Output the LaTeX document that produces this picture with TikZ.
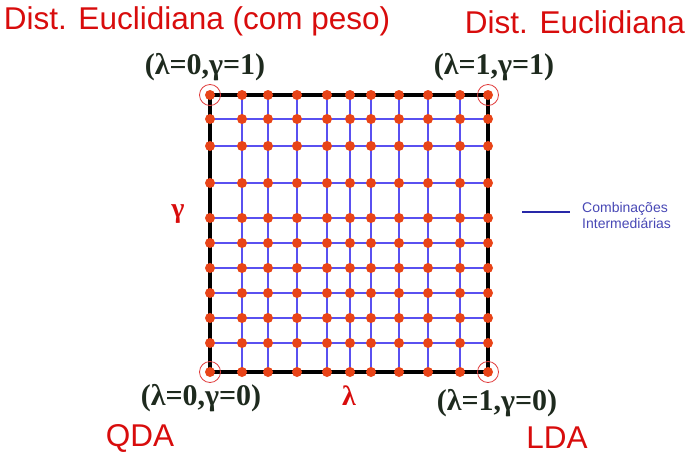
\documentclass[tikz,border=0pt]{standalone}
\usepackage{fontspec}
\setmainfont{Liberation Sans}
\newfontfamily\coordfont{Liberation Serif}
\usetikzlibrary{positioning}
\definecolor{mRed}{HTML}{D80C0C}
\definecolor{mDot}{HTML}{E84418}
\definecolor{mBlue}{HTML}{5A50F0}
\definecolor{mNavy}{HTML}{2828A8}
\definecolor{mDark}{HTML}{1E2A1E}

\tikzset{
  title/.style={text=mRed, font=\fontsize{31.5}{33}\selectfont, inner sep=0pt},
  corner/.style={text=mDark, font=\coordfont\bfseries\fontsize{30}{32}\selectfont, inner sep=0pt},
  axislbl/.style={text=mRed, font=\coordfont\bfseries\fontsize{28}{30}\selectfont, inner sep=0pt},
  gridline/.style={mBlue, line width=2pt},
  dot/.style={circle, fill=mDot, inner sep=0pt, minimum size=10pt},
  ring/.style={circle, draw=mRed!80, line width=0.8pt, minimum size=21pt, inner sep=0pt},
}

\begin{document}
\begin{tikzpicture}[x=1pt, y=-1pt]
  \useasboundingbox (0,0) rectangle (698,455);
  % grid points, lambda along x, gamma along y
  \foreach \x [count=\i from 0] in {210,242,268,297,327,350,371,399,428,460,488} {
    \foreach \y [count=\j from 0] in {372,343,318,293,268,243,218,183,146,119,95} {
      \coordinate (p\i-\j) at (\x,\y);
    }
  }
  \foreach \i in {1,...,9} {
    \draw[gridline] (p\i-0) -- (p\i-10);
    \draw[gridline] (p0-\i) -- (p10-\i);
  }
  \draw[line width=4pt] (p0-0) rectangle (p10-10);
  \foreach \i in {0,...,10} {
    \foreach \j in {0,...,10} {
      \node[dot] (d\i-\j) at (p\i-\j) {};
    }
  }
  \node[ring] (r00) at (p0-0) {};
  \node[ring] (r10) at (p10-0) {};
  \node[ring] (r01) at (p0-10) {};
  \node[ring] (r11) at (p10-10) {};

  % corner labels
  \node[corner] (c01) at (205,67) {(λ=0,γ=1)};
  \node[corner] (c11) at (494,67) {(λ=1,γ=1)};
  \node[corner] (c00) at (201,398) {(λ=0,γ=0)};
  \node[corner] (c10) at (497,403) {(λ=1,γ=0)};
  \node[axislbl] (gam) at (178,214) {γ};
  \node[axislbl] (lam) at (349,396) {λ};

  % titles
  \node[title] (euclw) at (197,21) {Dist. Euclidiana (com peso)};
  \node[title] (eucl) at (575,22) {Dist. Euclidiana};
  \node[title] (qda) at (140,438) {QDA};
  \node[title] (lda) at (557,438) {LDA};

  % legend
  \coordinate (legA) at (522,212);
  \coordinate (legB) at (570,212);
  \draw[mNavy, line width=2.5pt] (legA) -- (legB);
  \node[text=mNavy!85, font=\fontsize{14}{16}\selectfont, align=left, anchor=west, inner sep=0pt] (legtxt) at (582,215) {Combinações\\Intermediárias};
\end{tikzpicture}
\end{document}
